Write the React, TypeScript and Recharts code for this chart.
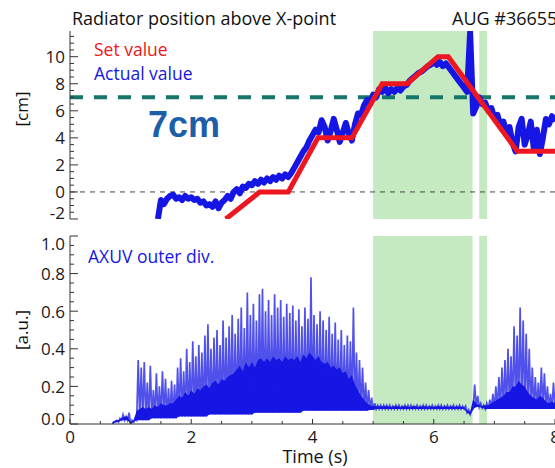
import React from 'react';
import { ComposedChart, Line, Area, XAxis, YAxis, ReferenceArea, ReferenceLine } from 'recharts';

// shaded time windows (s)
const greenBands = [
  [5.0, 6.64],
  [6.75, 6.88],
];

// set value of the radiator position (cm)
const setTime = [2.57, 3.13, 3.6, 4.09, 4.65, 5.15, 5.56, 6.07, 6.24, 7.38, 8.0];
const setValue = [-2, 0, 0, 4, 4, 8, 8, 10, 10, 3, 3];

// measured position, one value every 0.05 s from 1.45 s
const actualStart = 1.45;
const actualStep = 0.05;
const actualValue = [
  -2.0, -0.6, -0.9, -0.5, -0.3, -0.2, -0.5, -0.4, -0.6, -0.3,
  -0.5, -0.4, -0.6, -0.5, -0.8, -0.7, -1.0, -0.9, -1.1, -0.7,
  -1.2, -0.8, -0.6, -0.3, -0.5, 0.0, 0.2, -0.1, 0.4, 0.3,
  0.6, 0.5, 0.8, 0.6, 0.9, 0.7, 1.0, 0.8, 1.1, 0.9,
  1.2, 1.0, 1.3, 1.1, 1.4, 1.8, 2.2, 2.6, 3.0, 3.3,
  3.8, 4.2, 4.6, 4.4, 5.3, 4.8, 3.8, 4.5, 5.4, 4.6,
  3.7, 4.4, 5.1, 4.3, 3.8, 5.0, 5.8, 5.7, 6.4, 6.8,
  6.5, 7.2, 7.0, 7.6, 7.4, 7.7, 7.3, 7.6, 7.4, 7.7,
  7.5, 7.8, 7.9, 8.2, 8.4, 8.6, 8.8, 8.9, 9.1, 9.3,
  9.4, 9.6, 9.4, 9.6, 9.3, 9.5, 9.2, 8.9, 8.6, 8.3,
  8.0, 7.7, 7.4, 11.8, 5.8, 6.3, 7.0, 6.5, 6.6, 6.0,
  6.2, 5.5, 5.7, 4.9, 5.2, 4.3, 4.8, 3.6, 3.0, 4.8,
  5.4, 3.5, 4.2, 5.2, 3.2, 4.6, 2.8, 4.0, 5.4, 5.0,
  5.6, 5.2,
];

// AXUV signal, one sample every 0.05 s from 0.70 s: lower edge, dense core top, spike top
const axuvStart = 0.7;
const axuvStep = 0.05;
const axuvFloor = [
  0.0, 0.01, 0.01, 0.02, 0.02, 0.02, 0.0, 0.01, 0.02, 0.02,
  0.02, 0.02, 0.02, 0.03, 0.03, 0.03, 0.03, 0.03, 0.03, 0.03,
  0.03, 0.03, 0.04, 0.04, 0.04, 0.04, 0.04, 0.04, 0.04, 0.04,
  0.04, 0.04, 0.05, 0.05, 0.05, 0.05, 0.05, 0.05, 0.05, 0.05,
  0.05, 0.05, 0.05, 0.05, 0.05, 0.05, 0.05, 0.06, 0.06, 0.06,
  0.06, 0.06, 0.06, 0.06, 0.06, 0.06, 0.06, 0.06, 0.06, 0.06,
  0.06, 0.06, 0.06, 0.07, 0.07, 0.07, 0.07, 0.07, 0.07, 0.07,
  0.07, 0.07, 0.07, 0.07, 0.07, 0.07, 0.07, 0.07, 0.07, 0.07,
  0.07, 0.07, 0.07, 0.07, 0.07, 0.075, 0.075, 0.08, 0.08, 0.08,
  0.08, 0.08, 0.08, 0.08, 0.08, 0.08, 0.08, 0.08, 0.08, 0.08,
  0.08, 0.08, 0.08, 0.08, 0.08, 0.08, 0.08, 0.08, 0.08, 0.08,
  0.08, 0.08, 0.08, 0.08, 0.08, 0.08, 0.08, 0.06, 0.05, 0.08,
  0.09, 0.09, 0.085, 0.08, 0.08, 0.08, 0.08, 0.08, 0.08, 0.08,
  0.08, 0.08, 0.08, 0.08, 0.08, 0.08, 0.08, 0.08, 0.08, 0.08,
  0.08, 0.08, 0.08, 0.08, 0.08, 0.08, 0.08,
];
const axuvCore = [
  0.01, 0.02, 0.02, 0.03, 0.04, 0.04, 0.01, 0.02, 0.07, 0.08,
  0.09, 0.08, 0.09, 0.08, 0.1, 0.09, 0.11, 0.1, 0.1, 0.11,
  0.11, 0.13, 0.15, 0.14, 0.17, 0.15, 0.18, 0.16, 0.19, 0.18,
  0.2, 0.21, 0.19, 0.22, 0.23, 0.21, 0.24, 0.23, 0.25, 0.26,
  0.27, 0.29, 0.31, 0.28, 0.33, 0.3, 0.33, 0.3, 0.34, 0.35,
  0.33, 0.35, 0.33, 0.36, 0.34, 0.35, 0.33, 0.36, 0.34, 0.35,
  0.34, 0.36, 0.33, 0.37, 0.35, 0.38, 0.36, 0.34, 0.36, 0.33,
  0.32, 0.33, 0.3, 0.31, 0.29, 0.3, 0.27, 0.28, 0.24, 0.26,
  0.21, 0.18, 0.15, 0.13, 0.11, 0.1, 0.095, 0.095, 0.095, 0.095,
  0.095, 0.095, 0.09, 0.095, 0.095, 0.09, 0.095, 0.095, 0.09, 0.095,
  0.095, 0.09, 0.095, 0.095, 0.09, 0.095, 0.09, 0.095, 0.095, 0.09,
  0.095, 0.09, 0.095, 0.09, 0.095, 0.09, 0.09, 0.07, 0.065, 0.13,
  0.11, 0.1, 0.095, 0.1, 0.1, 0.11, 0.12, 0.13, 0.14, 0.15,
  0.17, 0.17, 0.2, 0.2, 0.23, 0.21, 0.2, 0.17, 0.15, 0.14,
  0.13, 0.15, 0.14, 0.12, 0.11, 0.12, 0.11,
];
const axuvPeak = [
  0.01, 0.02, 0.03, 0.05, 0.04, 0.06, 0.02, 0.03, 0.34, 0.3,
  0.33, 0.22, 0.31, 0.18, 0.27, 0.2, 0.28, 0.24, 0.19, 0.23,
  0.21, 0.3, 0.35, 0.28, 0.4, 0.33, 0.44, 0.36, 0.42, 0.38,
  0.47, 0.53, 0.4, 0.46, 0.5, 0.42, 0.55, 0.46, 0.52, 0.58,
  0.48, 0.56, 0.62, 0.51, 0.7, 0.58, 0.64, 0.55, 0.69, 0.72,
  0.6, 0.66, 0.58, 0.69, 0.62, 0.66, 0.57, 0.64, 0.59, 0.63,
  0.55, 0.61, 0.52, 0.62, 0.56, 0.78, 0.58, 0.53, 0.6, 0.55,
  0.5, 0.57, 0.48, 0.54, 0.45, 0.5, 0.42, 0.47, 0.44, 0.62,
  0.38, 0.34, 0.3, 0.22, 0.18, 0.14, 0.11, 0.1, 0.1, 0.1,
  0.1, 0.1, 0.095, 0.1, 0.1, 0.095, 0.1, 0.1, 0.1, 0.095,
  0.1, 0.095, 0.1, 0.1, 0.095, 0.1, 0.095, 0.1, 0.1, 0.095,
  0.1, 0.095, 0.1, 0.095, 0.1, 0.095, 0.095, 0.075, 0.07, 0.21,
  0.15, 0.11, 0.1, 0.11, 0.13, 0.16, 0.2, 0.25, 0.3, 0.34,
  0.4, 0.36, 0.52, 0.47, 0.62, 0.55, 0.48, 0.4, 0.3, 0.25,
  0.22, 0.3, 0.27, 0.2, 0.16, 0.22, 0.18,
];

// axis ticks
const cmTicks = [-2, 0, 2, 4, 6, 8, 10];
const cmMinorStep = 0.5;
const auTicks = [0, 0.2, 0.4, 0.6, 0.8, 1.0];
const auMinorStep = 0.05;
const timeTicks = [0, 2, 4, 6, 8];
const timeMinorStep = 0.5;

const FONT = "'Open Sans', Lato, sans-serif";
const FRAME = '#333';
const GREEN = '#c5e9c0';
const RED = '#ee1620';
const BLUE = '#1616e4';

const range = (a: number, b: number, s: number) =>
  Array.from({ length: Math.round((b - a) / s) + 1 }, (_, i) => +(a + i * s).toFixed(3));
const has = (arr: number[], v: number) => arr.some((a) => Math.abs(a - v) < 1e-6);

const setData = setTime.map((t, i) => ({ t, v: setValue[i] }));
const actualData = actualValue.map((v, i) => ({ t: +(actualStart + i * actualStep).toFixed(3), v }));
const axuvBand = axuvFloor.map((f, i) => ({
  t: +(axuvStart + i * axuvStep).toFixed(3),
  band: [f, axuvCore[i]],
}));
// zigzag between the lower edge and each spike top
const axuvSpikes = axuvPeak.flatMap((p, i) => {
  const t = axuvStart + i * axuvStep;
  return [
    { t, v: axuvFloor[i] },
    { t: t + axuvStep / 2, v: p },
  ];
});

const cmAll = range(-2, 11.5, cmMinorStep);
const auAll = range(0, 1, auMinorStep);
const timeAll = range(0, 8, timeMinorStep);

// ticks point into the plot, labels sit outside (IDL style)
function leftTick(majors: number[], fmt: (v: number) => string, nudge: (v: number) => number) {
  return (p: any) => {
    const v = p.payload.value;
    const major = has(majors, v);
    const ax = p.x + 5;
    return (
      <g>
        <line x1={ax} x2={ax + (major ? 8 : 4)} y1={p.y} y2={p.y} stroke={FRAME} />
        {major && (
          <text x={p.x} y={p.y + nudge(v)} textAnchor="end" dominantBaseline="central"
            fontFamily={FONT} fontSize={17} fill="#1a1a1a">
            {fmt(v)}
          </text>
        )}
      </g>
    );
  };
}

function rightTick(majors: number[]) {
  return (p: any) => {
    const major = has(majors, p.payload.value);
    return <line x1={p.x} x2={p.x - (major ? 8 : 4)} y1={p.y} y2={p.y} stroke={FRAME} />;
  };
}

function xTick(dir: number, labels: boolean) {
  return (p: any) => {
    const v = p.payload.value;
    const major = has(timeTicks, v);
    return (
      <g>
        <line x1={p.x} x2={p.x} y1={p.y} y2={p.y + dir * (major ? 5 : 3)} stroke={FRAME} />
        {labels && major && (
          <text x={p.x} y={p.y + 12} textAnchor="middle" dominantBaseline="central"
            fontFamily={FONT} fontSize={17} fill="#1a1a1a">
            {v}
          </text>
        )}
      </g>
    );
  };
}

export default function App() {
  return (
    <div style={{ position: 'absolute', left: 0, top: 0, width: 555, height: 468, overflow: 'hidden', background: '#fff' }}>
      <div style={{ position: 'absolute', left: 0, top: 0 }}>
        <ComposedChart width={555} height={228} margin={{ top: 31, right: 0, bottom: 9, left: 0 }}>
          <XAxis dataKey="t" type="number" domain={[0, 8]} allowDataOverflow ticks={timeAll} interval={0}
            height={0} tickSize={0} tickMargin={0} stroke={FRAME} tick={xTick(-1, false)} />
          <XAxis xAxisId="top" orientation="top" type="number" domain={[0, 8]} ticks={timeAll} interval={0}
            height={0} tickSize={0} tickMargin={0} stroke={FRAME} tick={xTick(1, false)} />
          <YAxis type="number" domain={[-2, 11.9]} allowDataOverflow ticks={cmAll} interval={0}
            width={70} tickSize={0} tickMargin={5} stroke={FRAME}
            tick={leftTick(cmTicks, (v) => String(v), (v) => (v === -2 ? -7 : 0))} />
          {greenBands.map(([a, b]) => (
            <ReferenceArea key={a} x1={a} x2={b} fill={GREEN} fillOpacity={1} stroke="none" />
          ))}
          <ReferenceLine y={0} stroke="#444" strokeDasharray="5 5" />
          <ReferenceLine y={7} stroke="#17766b" strokeWidth={4} strokeDasharray="13 11" />
          <Line data={actualData} dataKey="v" stroke={BLUE} strokeWidth={6} dot={false}
            isAnimationActive={false} strokeLinejoin="round" />
          <Line data={setData} dataKey="v" stroke={RED} strokeWidth={5} dot={false}
            isAnimationActive={false} />
        </ComposedChart>
      </div>
      <div style={{ position: 'absolute', left: 0, top: 225 }}>
        <ComposedChart width={555} height={243} margin={{ top: 11, right: 0, bottom: 0, left: 0 }}>
          <XAxis dataKey="t" type="number" domain={[0, 8]} allowDataOverflow ticks={timeAll} interval={0}
            height={44} tickSize={0} tickMargin={0} stroke={FRAME} tick={xTick(-1, true)} />
          <XAxis xAxisId="top" orientation="top" type="number" domain={[0, 8]} ticks={timeAll} interval={0}
            height={0} tickSize={0} tickMargin={0} stroke={FRAME} tick={xTick(1, false)} />
          <YAxis type="number" domain={[0, 1]} allowDataOverflow ticks={auAll} interval={0}
            width={70} tickSize={0} tickMargin={5} stroke={FRAME}
            tick={leftTick(auTicks, (v) => v.toFixed(1), (v) => (v === 0 ? -6 : v === 1 ? 7 : 0))} />
          <YAxis yAxisId="r" orientation="right" type="number" domain={[0, 1]} ticks={auAll} interval={0}
            width={0} tickSize={0} tickMargin={0} stroke={FRAME} tick={rightTick(auTicks)} />
          {greenBands.map(([a, b]) => (
            <ReferenceArea key={a} x1={a} x2={b} fill={GREEN} fillOpacity={1} stroke="none" />
          ))}
          <Area data={axuvBand} dataKey="band" type="linear" stroke="none" fill={BLUE} fillOpacity={1}
            isAnimationActive={false} />
          <Line data={axuvSpikes} dataKey="v" stroke={BLUE} strokeOpacity={0.75} strokeWidth={1.7} dot={false}
            isAnimationActive={false} />
        </ComposedChart>
      </div>
      <svg width={555} height={468} style={{ position: 'absolute', left: 0, top: 0, pointerEvents: 'none' }}
        fontFamily={FONT}>
        <text x={72} y={25} fontSize={18} fill="#111">Radiator position above X-point</text>
        <text x={452} y={25} fontSize={18} fill="#111">AUG #36655</text>
        <text x={94} y={56} fontSize={17.5} fill={RED}>Set value</text>
        <text x={94} y={80} fontSize={17.5} fill={BLUE}>Actual value</text>
        <text x={148} y={137} fontSize={36} fontWeight="bold" fontFamily="'Liberation Sans', Arial, sans-serif"
          fill="#1d5ea8">7cm</text>
        <text x={21} y={109} fontSize={17} fill="#111" textAnchor="middle" dominantBaseline="central"
          transform="rotate(-90 21 109)">[cm]</text>
        <text x={21} y={330} fontSize={17} fill="#111" textAnchor="middle" dominantBaseline="central"
          transform="rotate(-90 21 330)">[a.u.]</text>
        <text x={88} y={263} fontSize={17.5} fill={BLUE}>AXUV outer div.</text>
        <text x={315} y={463} fontSize={18} fill="#111" textAnchor="middle">Time (s)</text>
      </svg>
    </div>
  );
}
